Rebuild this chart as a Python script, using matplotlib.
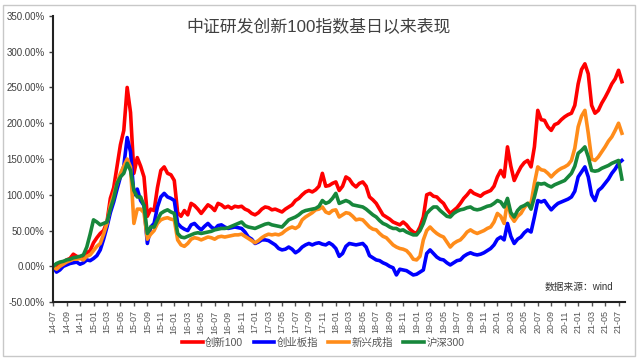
import numpy as np
import matplotlib
matplotlib.use('Agg')
import matplotlib.pyplot as plt
from matplotlib.patches import Rectangle
from matplotlib.ticker import FuncFormatter

plt.rcParams['font.family'] = ['Liberation Sans', 'Noto Sans CJK SC', 'DejaVu Sans']

# months since 2014-07, half-month steps
months = np.arange(0, 85, 0.5)

innov100 = [
    0, -2, 3, 5, 9, 11, 17, 14, 13, 12,
    19, 22, 33, 40, 46, 50, 62, 95, 110, 140,
    170, 190, 250, 215, 130, 152, 140, 125, 70, 80,
    78, 110, 134, 139, 130, 128, 120, 75, 70, 78,
    72, 88, 85, 80, 74, 80, 86, 83, 78, 88,
    86, 82, 84, 81, 84, 83, 84, 80, 78, 74,
    72, 75, 80, 83, 82, 79, 80, 78, 76, 80,
    83, 86, 92, 95, 100, 104, 106, 104, 107, 112,
    130, 112, 113, 116, 118, 106, 112, 125, 122, 115,
    111, 116, 118, 112, 97, 93, 88, 80, 72, 69,
    66, 62, 60, 58, 62, 58, 52, 48, 46, 55,
    69, 100, 102, 98, 97, 92, 88, 80, 74, 78,
    82, 88, 95, 100, 106, 102, 100, 98, 102, 104,
    106, 112, 125, 134, 125, 167, 140, 120, 130, 139,
    145, 148, 139, 167, 218, 205, 204, 195, 190, 198,
    200, 205, 209, 212, 214, 225, 255, 275, 283, 269,
    225, 214, 218, 228, 236, 245, 255, 262, 274, 258,
]

chinext = [
    0, -8, -5, 0, 2, 4, 5, 6, 3, 5,
    9, 8, 11, 15, 23, 38, 55, 75, 90, 108,
    125, 140, 180, 160, 100, 108, 92, 85, 32, 55,
    60, 83, 97, 102, 97, 95, 92, 60, 55, 52,
    50, 58, 60, 55, 51, 56, 60, 55, 52, 57,
    58, 55, 53, 54, 55, 54, 53, 48, 41, 38,
    32, 34, 37, 37, 36, 33, 30, 25, 23, 24,
    27, 24, 19, 22, 27, 30, 32, 30, 32, 33,
    31, 30, 33, 30, 25, 14, 18, 28, 32, 31,
    30, 31, 32, 27, 15, 12, 9, 8, 5, 3,
    0, -2, -12, -4, -5, -6, -9, -12, -11, -8,
    -5, 18, 23, 18, 13, 10, 9, 5, 2, 5,
    8, 9, 14, 17, 19, 17, 16, 17, 19, 22,
    25, 30, 38, 41, 37, 60, 42, 32, 38, 41,
    47, 51, 48, 69, 92, 90, 92, 85, 79, 84,
    88, 90, 92, 94, 97, 105, 125, 132, 139, 125,
    100, 92, 106, 110, 116, 122, 130, 136, 144, 148,
]

emerging = [
    0, -4, 0, 3, 6, 8, 10, 10, 11, 9,
    14, 16, 22, 28, 32, 45, 60, 85, 100, 116,
    130, 140, 150, 139, 60, 80, 80, 75, 38, 45,
    50, 60, 65, 67, 68, 66, 65, 37, 30, 28,
    32, 38, 40, 39, 37, 39, 41, 40, 38, 41,
    42, 41, 42, 43, 44, 44, 45, 42, 39, 36,
    33, 36, 40, 43, 45, 44, 45, 44, 46, 50,
    53, 55, 53, 56, 65, 69, 72, 75, 79, 80,
    83, 76, 74, 78, 79, 69, 72, 75, 74, 70,
    65, 66, 65, 60, 55, 52, 51, 46, 42, 40,
    35, 30, 27, 25, 24, 22, 17, 10, 9, 14,
    37, 50, 55, 50, 46, 43, 41, 34, 27, 32,
    35, 37, 42, 48, 51, 48, 46, 48, 50, 53,
    55, 62, 74, 70, 60, 92, 70, 63, 70, 74,
    82, 88, 88, 116, 139, 135, 134, 130, 125, 130,
    134, 137, 139, 142, 148, 165, 195, 210, 218, 186,
    150, 148, 153, 160, 167, 175, 181, 190, 200, 186,
]

hs300 = [
    0, 4, 6, 7, 9, 10, 12, 13, 14, 16,
    27, 45, 65, 62, 58, 60, 62, 80, 95, 116,
    125, 130, 144, 134, 106, 97, 97, 85, 46, 55,
    55, 65, 74, 77, 79, 76, 74, 46, 41, 40,
    42, 44, 46, 47, 46, 47, 48, 49, 51, 52,
    53, 53, 54, 56, 58, 60, 62, 57, 55, 54,
    53, 55, 57, 59, 60, 58, 57, 56, 55, 60,
    65, 67, 69, 72, 76, 78, 79, 80, 81, 84,
    92, 88, 90, 95, 102, 88, 90, 92, 90, 86,
    85, 84, 83, 80, 76, 72, 69, 64, 60, 58,
    55, 53, 53, 50, 51, 48, 46, 44, 44, 50,
    60, 74, 79, 83, 83, 78, 74, 70, 69, 74,
    77, 79, 80, 82, 83, 80, 79, 80, 82, 84,
    85, 88, 92, 90, 83, 95, 75, 69, 78, 83,
    85, 88, 80, 97, 116, 115, 116, 113, 111, 114,
    116, 118, 120, 125, 130, 140, 158, 162, 167, 153,
    134, 133, 134, 137, 139, 141, 144, 146, 148, 122,
]

names = ['创新100', '创业板指', '新兴成指', '沪深300']
colors = ['#FF0000', '#0000FF', '#FF8C1A', '#17873B']

# x tick labels every two months, 14-07 .. 21-07
tick_pos = np.arange(0, 85, 2)
tick_labels = []
for p in tick_pos:
    y = 14 + (6 + p) // 12
    m = (6 + p) % 12 + 1
    tick_labels.append(f'{y:02d}-{m:02d}')

fig = plt.figure(figsize=(6.4, 3.61), dpi=100)
ax = fig.add_axes([0.083, 0.163, 0.894, 0.793])

series = [innov100, chinext, emerging, hs300]
for vals, name, c in zip(series, names, colors):
    ax.plot(months, vals, color=c, lw=2.6, label=name, solid_joinstyle='round')

ax.set_xlim(0, 85)
ax.set_ylim(-50, 350)
ax.set_yticks(np.arange(-50, 351, 50))
ax.yaxis.set_major_formatter(FuncFormatter(lambda v, p: f'{v:.2f}%'))
ax.set_xticks(tick_pos)
ax.set_xticklabels(tick_labels, rotation=90)
ax.tick_params(axis='y', labelsize=7, length=3, width=1, colors='#404040', pad=3)
ax.tick_params(axis='x', labelsize=6.5, length=3, width=1, colors='#555555', pad=3)

for s in ['top', 'right']:
    ax.spines[s].set_visible(False)
for s in ['left', 'bottom']:
    ax.spines[s].set_linewidth(1.5)
    ax.spines[s].set_color('#222222')

fig.text(0.497, 0.925, '中证研发创新100指数基日以来表现', ha='center', va='center',
         fontsize=12.2, color='#404040')
fig.text(0.958, 0.205, '数据来源：wind', ha='right', va='center', fontsize=7, color='#333333')

fig.legend(loc='center', bbox_to_anchor=(0.505, 0.05), ncol=4, frameon=False,
           fontsize=7.5, handlelength=2.0, handletextpad=0.2, columnspacing=1.0,
           labelcolor='#555555')

fig.add_artist(Rectangle((0.0047, 0.0139), 0.9875, 0.972, transform=fig.transFigure,
                         fill=False, edgecolor='#C8C8C8', lw=1))

fig.savefig('out.png', dpi=100)
